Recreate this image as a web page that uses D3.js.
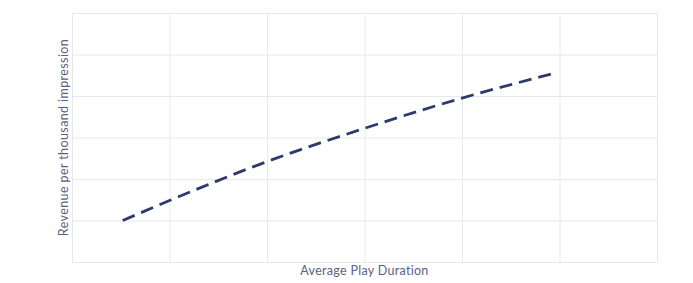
<!DOCTYPE html>
<html>
<head>
<meta charset="utf-8">
<script src="https://cdn.jsdelivr.net/npm/d3@7"></script>
<style>
  body { margin: 0; background: #fff; }
  text { font-family: Lato, "Open Sans", sans-serif; }
</style>
</head>
<body>
<div id="chart"></div>
<script>
// values (no tick labels shown, unit grid 0..6)
var durations = [0.52, 1, 2, 3, 4, 4.92];
var revenues = [1.0, 1.48, 2.42, 3.22, 3.95, 4.53];
var xTicks = [0, 1, 2, 3, 4, 5, 6];
var yTicks = [0, 1, 2, 3, 4, 5, 6];

var svgWidth = 693;
var svgHeight = 283;
var margin = { top: 13, right: 36, bottom: 21, left: 72 };
var width = svgWidth - margin.left - margin.right;
var height = svgHeight - margin.top - margin.bottom;

var svg = d3.select("#chart")
  .append("svg")
  .attr("width", svgWidth)
  .attr("height", svgHeight);

var chartGroup = svg.append("g")
  .attr("transform", `translate(${margin.left}, ${margin.top})`);

var x = d3.scaleLinear().domain([0, 6]).range([0, width]);
var y = d3.scaleLinear().domain([0, 6]).range([height, 0]);

// grid
chartGroup.append("g")
  .attr("transform", `translate(0, ${height})`)
  .call(d3.axisBottom(x).tickValues(xTicks).tickSize(-height).tickFormat(""))
  .call(g => g.select(".domain").remove())
  .selectAll("line").attr("stroke", "#e8e8ec");

chartGroup.append("g")
  .call(d3.axisLeft(y).tickValues(yTicks).tickSize(-width).tickFormat(""))
  .call(g => g.select(".domain").remove())
  .selectAll("line").attr("stroke", "#e8e8ec");

// dashed line
var points = durations.map((d, i) => ({ x: d, y: revenues[i] }));
var line = d3.line()
  .x(d => x(d.x))
  .y(d => y(d.y))
  .curve(d3.curveMonotoneX);

chartGroup.append("path")
  .datum(points)
  .attr("d", line)
  .attr("fill", "none")
  .attr("stroke", "#2e3a6b")
  .attr("stroke-width", 2.8)
  .attr("stroke-dasharray", "13,7");

// axis labels
svg.append("text")
  .attr("x", margin.left + width / 2)
  .attr("y", 275)
  .attr("text-anchor", "middle")
  .attr("font-size", 12.5)
  .attr("letter-spacing", 0.3)
  .attr("fill", "#5b6185")
  .text("Average Play Duration");

svg.append("text")
  .attr("transform", `translate(68, ${margin.top + height / 2}) rotate(-90)`)
  .attr("text-anchor", "middle")
  .attr("font-size", 12.5)
  .attr("letter-spacing", 0.4)
  .attr("fill", "#5b6185")
  .text("Revenue per thousand impression");
</script>
</body>
</html>
